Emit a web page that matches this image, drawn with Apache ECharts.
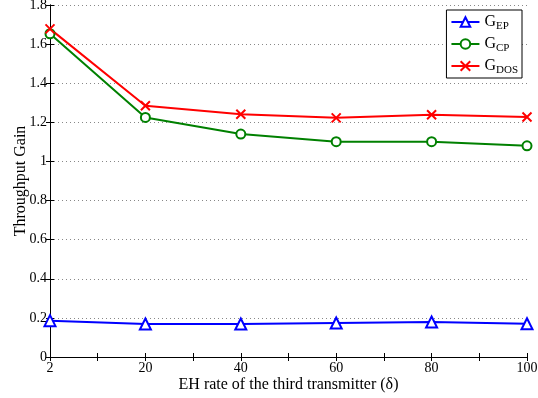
<!DOCTYPE html>
<html>
<head>
<meta charset="utf-8">
<script src="https://cdn.jsdelivr.net/npm/echarts@6/dist/echarts.min.js"></script>
<style>
  html, body { margin: 0; padding: 0; background: #fff; }
  #chart-container { width: 538px; height: 398px; }
</style>
</head>
<body>
<div id="chart-container"></div>
<script>
// EH rate categories (equally spaced on the axis)
const categories = ['2', '20', '40', '60', '80', '100'];
const gEP = [0.186, 0.169, 0.169, 0.174, 0.179, 0.170];
const gCP = [1.653, 1.225, 1.140, 1.101, 1.101, 1.080];
const gDOS = [1.678, 1.285, 1.241, 1.223, 1.239, 1.227];
const yTicks = [0, 0.2, 0.4, 0.6, 0.8, 1, 1.2, 1.4, 1.6, 1.8];

const font = 'Liberation Serif';

function toPoints(arr) {
    return arr.map((v, i) => [i, v]);
}

const chartDom = document.getElementById('chart-container');
const myChart = echarts.init(chartDom);

const xBase = {
    type: 'value',
    min: 0,
    max: categories.length - 1,
    interval: 0.5,
    axisLine: { show: true, lineStyle: { color: '#000', width: 1 } },
    axisTick: { show: true, inside: true, length: 4, lineStyle: { color: '#000' } },
    splitLine: { show: false }
};
const yBase = {
    type: 'value',
    min: yTicks[0],
    max: yTicks[yTicks.length - 1],
    interval: 0.2,
    axisLine: { show: true, lineStyle: { color: '#000', width: 1 } },
    axisTick: { show: true, inside: true, length: 4, lineStyle: { color: '#000' } }
};

const crossPath = 'path://M0,0L10,10M10,0L0,10';

option = {
    backgroundColor: '#fff',
    animation: false,
    textStyle: { fontFamily: font },
    grid: { left: 50, right: 11, top: 5, bottom: 41, containLabel: false, outerBoundsMode: 'none' },
    legend: {
        orient: 'vertical',
        right: 16,
        top: 10,
        padding: [4, 4, 2, 4],
        itemGap: 4,
        itemWidth: 28,
        itemHeight: 12,
        backgroundColor: '#fff',
        borderColor: '#000',
        borderWidth: 1,
        borderRadius: 0,
        formatter: function (name) {
            return '{g|G}{s|' + name + '}';
        },
        textStyle: {
            rich: {
                g: { fontFamily: font, fontSize: 16, color: '#000' },
                s: { fontFamily: font, fontSize: 11, color: '#000', padding: [9, 0, 0, 0] }
            }
        },
        data: ['EP', 'CP', 'DOS']
    },
    xAxis: [
        Object.assign({}, xBase, {
            position: 'bottom',
            name: 'EH rate of the third transmitter (δ)',
            nameLocation: 'middle',
            nameGap: 20,
            nameMoveOverlap: false,
            nameTextStyle: { fontFamily: font, fontSize: 16, color: '#000', verticalAlign: 'top' },
            axisLabel: {
                fontFamily: font, fontSize: 14, color: '#000', margin: 4,
                formatter: function (v) {
                    return Number.isInteger(v) ? categories[v] : '';
                }
            }
        }),
        Object.assign({}, xBase, { position: 'top', axisLabel: { show: false } })
    ],
    yAxis: [
        Object.assign({}, yBase, {
            position: 'left',
            name: 'Throughput Gain',
            nameLocation: 'middle',
            nameGap: 21,
            nameMoveOverlap: false,
            nameTextStyle: { fontFamily: font, fontSize: 16, color: '#000' },
            axisLabel: { fontFamily: font, fontSize: 14, color: '#000', margin: 3 },
            splitLine: { show: true, lineStyle: { color: '#888', type: [1, 3], width: 1 } }
        }),
        Object.assign({}, yBase, { position: 'right', axisLabel: { show: false }, splitLine: { show: false } })
    ],
    series: [
        {
            name: 'EP',
            type: 'line',
            data: toPoints(gEP),
            symbol: 'emptyTriangle',
            symbolSize: 11,
            lineStyle: { color: '#0000ff', width: 2 },
            itemStyle: { color: '#0000ff', borderColor: '#0000ff', borderWidth: 2 }
        },
        {
            name: 'CP',
            type: 'line',
            data: toPoints(gCP),
            symbol: 'emptyCircle',
            symbolSize: 9,
            lineStyle: { color: '#008000', width: 2 },
            itemStyle: { color: '#008000', borderColor: '#008000', borderWidth: 2 }
        },
        {
            name: 'DOS',
            type: 'line',
            data: toPoints(gDOS),
            symbol: crossPath,
            symbolSize: 9,
            lineStyle: { color: '#ff0000', width: 2 },
            itemStyle: { color: '#ff0000', borderColor: '#ff0000', borderWidth: 2 }
        }
    ]
};
myChart.setOption(option);
</script>
</body>
</html>
